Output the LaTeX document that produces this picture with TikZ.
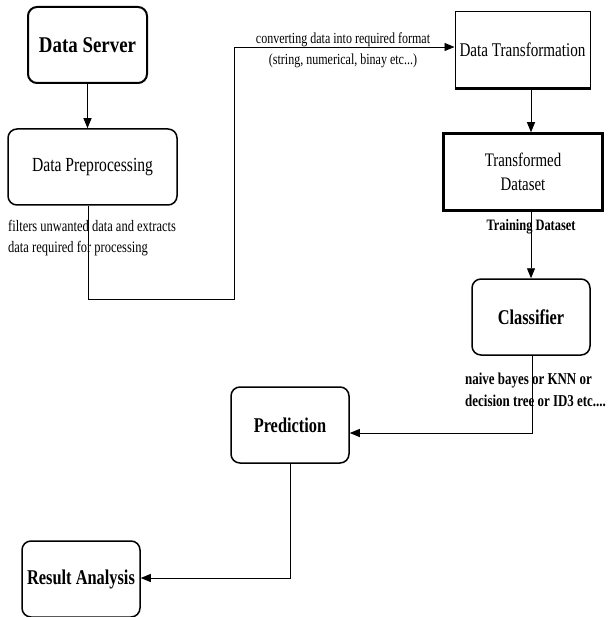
\documentclass[tikz,border=0pt]{standalone}
\usepackage{fontspec}
\setmainfont{Liberation Serif}[FakeStretch=0.78]
\newfontfamily\wideserif{Liberation Serif}[FakeStretch=0.84]
\usetikzlibrary{arrows.meta}

\begin{document}
\begin{tikzpicture}[x=1pt,y=-1pt,
  roundbox/.style={draw, rounded corners=9pt, line width=1.5pt, inner sep=0pt, align=center},
  squarebox/.style={draw, line width=1.5pt, inner sep=0pt, align=center},
  link/.style={line width=0.9pt},
  arrowlink/.style={link, -{Triangle[length=10pt,width=8pt]}},
  note/.style={inner sep=0pt},
  boldlabel/.style={font=\bfseries\fontsize{21}{26}\selectfont}
]
\useasboundingbox (0,0) rectangle (608,617);

% process boxes
\node[roundbox, line width=2pt, minimum width=119pt, minimum height=76pt,
      font=\wideserif\bfseries\fontsize{22.5}{26}\selectfont] (ds) at (87.5,45) {Data Server};
\node[roundbox, minimum width=169pt, minimum height=76pt,
      font=\fontsize{20}{24}\selectfont] (dp) at (92.5,167) {Data Preprocessing};
\node[squarebox, line width=1pt, minimum width=135pt, minimum height=76pt,
      font=\fontsize{19.4}{23}\selectfont] (dt) at (522.5,50) {Data Transformation};
\draw[line width=2.5pt] (dt.south west) -- (dt.south east);
\node[squarebox, line width=2.5pt, minimum width=159pt, minimum height=77pt,
      font=\fontsize{19.1}{23.5}\selectfont] (td) at (523,172) {Transformed\\Dataset};
\node[roundbox, boldlabel, minimum width=118pt, minimum height=76pt] (cl) at (531,317) {Classifier};
\node[roundbox, boldlabel, minimum width=118pt, minimum height=76pt] (pr) at (290,425) {Prediction};
\node[roundbox, boldlabel, minimum width=118pt, minimum height=76pt] (ra) at (81,579) {Result Analysis};

% annotations
\node[note, anchor=west, align=left, font=\fontsize{16}{21}\selectfont] (filt) at (8,238.5)
  {filters unwanted data and extracts\\data required for processing};
\node[note, align=center, font=\fontsize{15.4}{21}\selectfont] (conv) at (343,50.5)
  {converting data into required format\\(string, numerical, binay etc...)};
\node[note, font=\bfseries\fontsize{15.9}{18}\selectfont] (train) at (531,227) {Training Dataset};
\node[note, anchor=west, align=left, font=\bfseries\fontsize{16.6}{22.7}\selectfont] (algo) at (465,390)
  {naive bayes or KNN or\\decision tree or ID3 etc....};

% bend points of the connectors
\coordinate (b1) at (88,299);
\coordinate (b2) at (234,299);
\coordinate (b3) at (234,47);
\coordinate (b4) at (532,433);
\coordinate (b5) at (290,578);

% connectors
\draw[arrowlink] (ds.south) -- (ds.south |- dp.north);
\draw[arrowlink] (dp.south -| b1) -- (b1) -- (b2) -- (b3) -- (b3 -| dt.west);
\draw[arrowlink] (dt.south -| cl.north) -- (td.north -| cl.north);
\draw[arrowlink] (td.south -| cl.north) -- (cl.north);
\draw[arrowlink] (cl.south -| b4) -- (b4) -- (b4 -| pr.east);
\draw[arrowlink] (pr.south) -- (b5) -- (b5 -| ra.east);
\end{tikzpicture}
\end{document}
